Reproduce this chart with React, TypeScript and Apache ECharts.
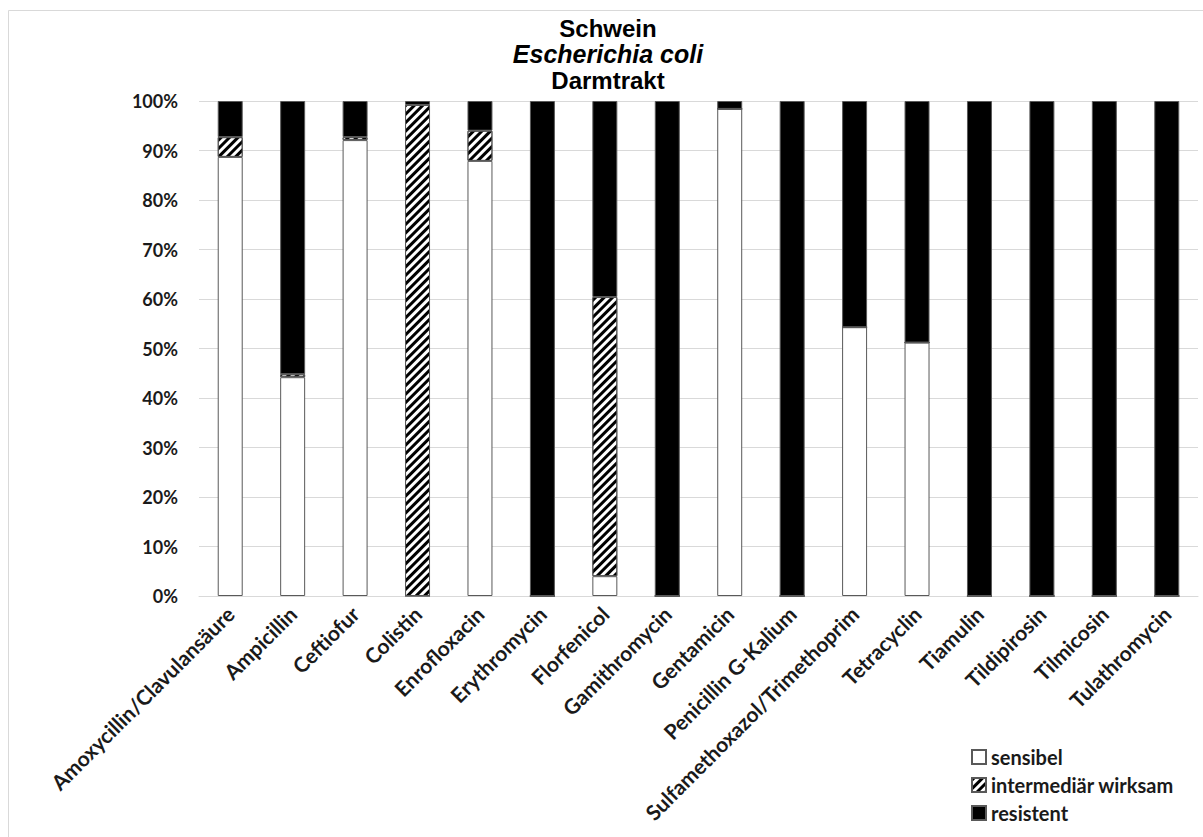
import React, { useEffect, useRef } from "react";
import * as echarts from "echarts";

const categories = [
  "Amoxycillin/Clavulansäure",
  "Ampicillin",
  "Ceftiofur",
  "Colistin",
  "Enrofloxacin",
  "Erythromycin",
  "Florfenicol",
  "Gamithromycin",
  "Gentamicin",
  "Penicillin G-Kalium",
  "Sulfamethoxazol/Trimethoprim",
  "Tetracyclin",
  "Tiamulin",
  "Tildipirosin",
  "Tilmicosin",
  "Tulathromycin",
];

const sensibel = [88.7, 44.2, 92.1, 0, 87.9, 0, 4.0, 0, 98.4, 0, 54.3, 51.2, 0, 0, 0, 0];
const intermediaer = [4.0, 0.6, 0.6, 99.2, 6.1, 0, 56.4, 0, 0, 0, 0, 0, 0, 0, 0, 0];
const resistent = [7.3, 55.2, 7.3, 0.8, 6.0, 100, 39.6, 100, 1.6, 100, 45.7, 48.8, 100, 100, 100, 100];

const seriesNames = ["sensibel", "intermediär wirksam", "resistent"];
const titleLines = ["Schwein", "Escherichia coli", "Darmtrakt"];

const LABEL_FONT = "Lato, 'Noto Sans', sans-serif";

export default function App() {
  const ref = useRef<HTMLDivElement>(null);
  useEffect(() => {
    document.body.style.margin = "0";
    const chart = echarts.init(ref.current!, null, { renderer: "svg" });
    const border = "#595959";
    const titleFont = "'Liberation Sans', Arial, sans-serif";
    chart.setOption({
      animation: false,
      backgroundColor: "#fff",
      graphic: [
        {
          type: "rect",
          shape: { x: 8.5, y: 10.5, width: 1300, height: 900 },
          style: { fill: "none", stroke: "#d9d9d9", lineWidth: 1 },
          silent: true,
        },
        {
          type: "text",
          x: 608,
          y: 28,
          style: {
            text: titleLines[0],
            font: "bold 24px " + titleFont,
            fill: "#000",
            textAlign: "center",
            textVerticalAlign: "middle",
          },
        },
        {
          type: "text",
          x: 608,
          y: 54,
          style: {
            text: titleLines[1],
            font: "italic bold 25px " + titleFont,
            fill: "#000",
            textAlign: "center",
            textVerticalAlign: "middle",
          },
        },
        {
          type: "text",
          x: 608,
          y: 80,
          style: {
            text: titleLines[2],
            font: "bold 24px " + titleFont,
            fill: "#000",
            textAlign: "center",
            textVerticalAlign: "middle",
          },
        },
      ],
      grid: { left: 199, right: 5, top: 101, bottom: 241, containLabel: false },
      legend: {
        orient: "vertical",
        left: 966,
        top: 742,
        itemWidth: 14,
        itemHeight: 14,
        itemGap: 8,
        icon: "rect",
        textStyle: { fontFamily: LABEL_FONT, fontWeight: "bold", fontSize: 20, color: "#1a1a1a" },
        data: seriesNames,
      },
      xAxis: {
        type: "category",
        data: categories,
        axisLine: { lineStyle: { color: "#d9d9d9", width: 1 } },
        axisTick: { show: false },
        axisLabel: {
          rotate: 45,
          interval: 0,
          margin: 14,
          fontFamily: LABEL_FONT,
          fontWeight: "bold",
          fontSize: 21,
          color: "#1a1a1a",
        },
      },
      yAxis: {
        type: "value",
        min: 0,
        max: 100,
        interval: 10,
        axisLine: { show: false },
        axisTick: { show: false },
        splitLine: { lineStyle: { color: "#d9d9d9", width: 1 } },
        axisLabel: {
          formatter: "{value}%",
          margin: 21,
          fontFamily: LABEL_FONT,
          fontWeight: "bold",
          fontSize: 18,
          color: "#1a1a1a",
        },
      },
      series: [
        {
          name: seriesNames[0],
          type: "bar",
          stack: "total",
          barWidth: "40%",
          data: sensibel,
          itemStyle: { color: "#ffffff", borderColor: border, borderWidth: 1 },
        },
        {
          name: seriesNames[1],
          type: "bar",
          stack: "total",
          barWidth: "40%",
          data: intermediaer,
          itemStyle: {
            color: "#ffffff",
            borderColor: border,
            borderWidth: 1,
            decal: {
              symbol: "rect",
              symbolSize: 1,
              color: "#000000",
              dashArrayX: [1, 0],
              dashArrayY: [3, 3],
              rotation: -Math.PI / 4,
            },
          },
        },
        {
          name: seriesNames[2],
          type: "bar",
          stack: "total",
          barWidth: "40%",
          data: resistent,
          itemStyle: { color: "#000000", borderColor: border, borderWidth: 1 },
        },
      ],
    });
    return () => chart.dispose();
  }, []);
  return <div ref={ref} style={{ width: 1203, height: 837 }} />;
}
